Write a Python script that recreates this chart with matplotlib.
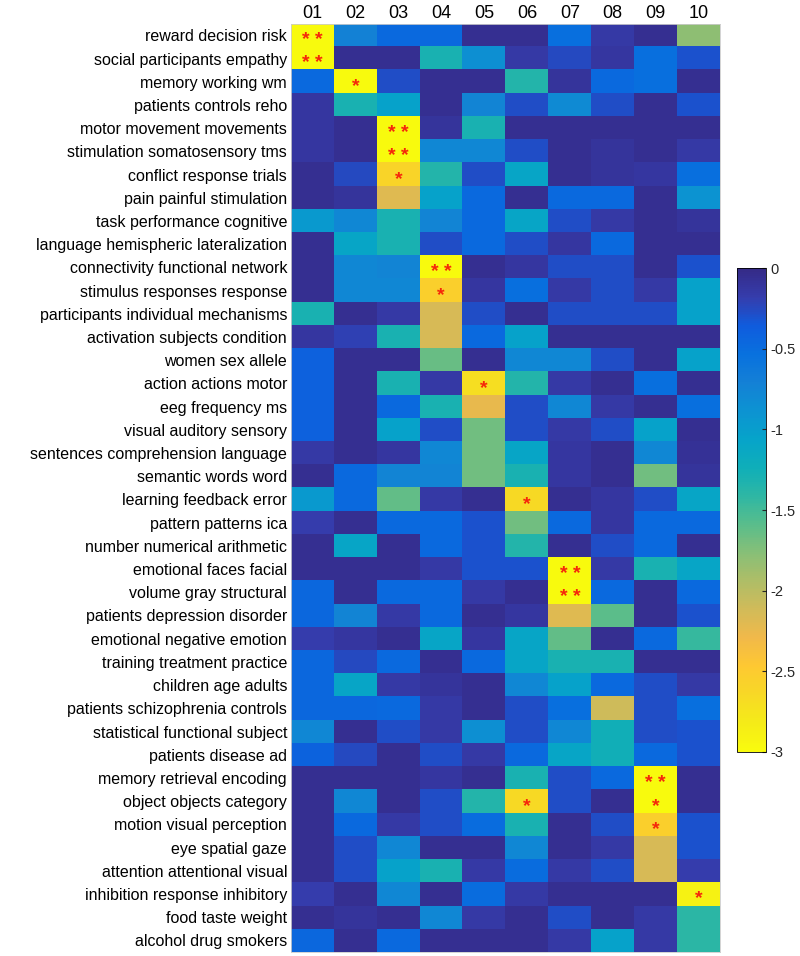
import matplotlib.pyplot as plt
import numpy as np
from matplotlib.colors import LinearSegmentedColormap

# topic labels (rows) and component labels (columns)
topics = [
    "reward decision risk", "social participants empathy", "memory working wm",
    "patients controls reho", "motor movement movements", "stimulation somatosensory tms",
    "conflict response trials", "pain painful stimulation", "task performance cognitive",
    "language hemispheric lateralization", "connectivity functional network",
    "stimulus responses response", "participants individual mechanisms",
    "activation subjects condition", "women sex allele", "action actions motor",
    "eeg frequency ms", "visual auditory sensory", "sentences comprehension language",
    "semantic words word", "learning feedback error", "pattern patterns ica",
    "number numerical arithmetic", "emotional faces facial", "volume gray structural",
    "patients depression disorder", "emotional negative emotion",
    "training treatment practice", "children age adults", "patients schizophrenia controls",
    "statistical functional subject", "patients disease ad", "memory retrieval encoding",
    "object objects category", "motion visual perception", "eye spatial gaze",
    "attention attentional visual", "inhibition response inhibitory", "food taste weight",
    "alcohol drug smokers",
]
components = ["01", "02", "03", "04", "05", "06", "07", "08", "09", "10"]

# values, one list per row
values = [
    [-3.0, -0.72, -0.48, -0.48, -0.05, -0.05, -0.52, -0.15, -0.05, -1.8],
    [-3.0, -0.05, -0.05, -1.3, -0.85, -0.15, -0.25, -0.12, -0.52, -0.3],
    [-0.48, -3.0, -0.28, -0.05, -0.05, -1.35, -0.1, -0.48, -0.52, -0.05],
    [-0.12, -1.3, -1.05, -0.05, -0.75, -0.28, -0.8, -0.28, -0.05, -0.3],
    [-0.12, -0.05, -3.0, -0.1, -1.3, -0.05, -0.05, -0.05, -0.05, -0.05],
    [-0.12, -0.05, -3.0, -0.78, -0.78, -0.28, -0.05, -0.1, -0.05, -0.15],
    [-0.05, -0.25, -2.6, -1.35, -0.28, -1.1, -0.05, -0.1, -0.12, -0.52],
    [-0.05, -0.1, -2.2, -1.05, -0.48, -0.05, -0.48, -0.48, -0.05, -0.88],
    [-0.95, -0.78, -1.3, -0.75, -0.48, -1.1, -0.28, -0.15, -0.05, -0.1],
    [-0.05, -1.1, -1.3, -0.28, -0.48, -0.28, -0.12, -0.48, -0.05, -0.05],
    [-0.05, -0.78, -0.75, -3.0, -0.05, -0.12, -0.28, -0.28, -0.05, -0.3],
    [-0.05, -0.78, -0.78, -2.55, -0.12, -0.52, -0.15, -0.28, -0.15, -1.05],
    [-1.3, -0.05, -0.15, -2.15, -0.28, -0.05, -0.28, -0.28, -0.28, -1.05],
    [-0.12, -0.2, -1.3, -2.15, -0.48, -1.05, -0.05, -0.05, -0.05, -0.05],
    [-0.4, -0.05, -0.05, -1.65, -0.05, -0.78, -0.78, -0.28, -0.05, -1.05],
    [-0.4, -0.05, -1.3, -0.15, -2.7, -1.35, -0.15, -0.05, -0.52, -0.05],
    [-0.4, -0.05, -0.48, -1.3, -2.25, -0.28, -0.78, -0.15, -0.05, -0.52],
    [-0.4, -0.05, -1.05, -0.28, -1.68, -0.28, -0.15, -0.28, -1.05, -0.05],
    [-0.15, -0.05, -0.12, -0.78, -1.68, -1.1, -0.12, -0.05, -0.78, -0.08],
    [-0.05, -0.48, -0.75, -0.75, -1.68, -1.3, -0.12, -0.05, -1.68, -0.1],
    [-0.95, -0.48, -1.62, -0.15, -0.05, -2.65, -0.05, -0.12, -0.28, -1.1],
    [-0.18, -0.05, -0.48, -0.48, -0.3, -1.68, -0.48, -0.12, -0.48, -0.48],
    [-0.05, -1.1, -0.05, -0.48, -0.3, -1.35, -0.05, -0.28, -0.48, -0.05],
    [-0.05, -0.05, -0.05, -0.15, -0.3, -0.3, -3.0, -0.15, -1.3, -1.1],
    [-0.45, -0.05, -0.48, -0.48, -0.15, -0.05, -3.0, -0.48, -0.05, -0.48],
    [-0.45, -0.75, -0.15, -0.48, -0.05, -0.12, -2.2, -1.6, -0.05, -0.3],
    [-0.18, -0.12, -0.05, -1.1, -0.12, -1.1, -1.62, -0.05, -0.48, -1.45],
    [-0.45, -0.25, -0.48, -0.05, -0.48, -1.1, -1.3, -1.3, -0.05, -0.05],
    [-0.45, -1.1, -0.15, -0.1, -0.05, -0.78, -1.05, -0.48, -0.28, -0.15],
    [-0.45, -0.45, -0.48, -0.15, -0.05, -0.28, -0.52, -2.1, -0.28, -0.52],
    [-0.78, -0.05, -0.28, -0.15, -0.85, -0.28, -0.78, -1.25, -0.28, -0.3],
    [-0.42, -0.25, -0.05, -0.28, -0.15, -0.48, -1.1, -1.25, -0.48, -0.3],
    [-0.05, -0.05, -0.05, -0.12, -0.05, -1.3, -0.28, -0.48, -3.0, -0.05],
    [-0.05, -0.78, -0.05, -0.28, -1.35, -2.65, -0.28, -0.05, -3.0, -0.05],
    [-0.05, -0.48, -0.15, -0.28, -0.5, -1.3, -0.05, -0.28, -2.55, -0.3],
    [-0.05, -0.28, -0.78, -0.05, -0.05, -0.78, -0.05, -0.15, -2.15, -0.3],
    [-0.05, -0.28, -1.05, -1.3, -0.15, -0.5, -0.15, -0.28, -2.15, -0.18],
    [-0.18, -0.05, -0.78, -0.05, -0.5, -0.15, -0.05, -0.05, -0.05, -2.9],
    [-0.05, -0.1, -0.05, -0.78, -0.15, -0.05, -0.28, -0.05, -0.15, -1.4],
    [-0.45, -0.05, -0.48, -0.05, -0.05, -0.05, -0.15, -1.05, -0.15, -1.4],
]

# significance marks: (row, column, text)
stars = [
    (0, 0, "**"), (1, 0, "**"), (2, 1, "*"), (4, 2, "**"), (5, 2, "**"), (6, 2, "*"),
    (10, 3, "**"), (11, 3, "*"), (15, 4, "*"), (20, 5, "*"), (23, 6, "**"), (24, 6, "**"),
    (32, 8, "**"), (33, 8, "*"), (33, 5, "*"), (34, 8, "*"), (37, 9, "*"),
]

# parula-like colormap (MATLAB default)
parula_pts = [
    (0.2081, 0.1663, 0.5292), (0.2081, 0.2386, 0.6771), (0.0591, 0.3598, 0.8683),
    (0.0329, 0.4430, 0.8720), (0.0779, 0.5040, 0.8384), (0.0488, 0.5772, 0.8228),
    (0.0231, 0.6418, 0.7913), (0.0590, 0.6838, 0.7254), (0.1801, 0.7177, 0.6424),
    (0.3482, 0.7424, 0.5473), (0.5300, 0.7491, 0.4661), (0.6834, 0.7435, 0.4044),
    (0.8185, 0.7327, 0.3498), (0.9450, 0.7261, 0.2886), (0.9955, 0.7861, 0.1967),
    (0.9697, 0.8481, 0.1475), (0.9598, 0.9218, 0.0948), (0.9763, 0.9831, 0.0538),
]
parula_r = LinearSegmentedColormap.from_list("parula_r", parula_pts[::-1], N=256)

plt.rcParams['font.family'] = ['Liberation Sans', 'DejaVu Sans']

fig = plt.figure(figsize=(8, 9.56), dpi=100)
ax = fig.add_axes([0.364, 0.0042, 0.536, 0.971])
im = ax.imshow(np.array(values), cmap=parula_r, vmin=-3, vmax=0, aspect='auto',
               interpolation='nearest')

for r, c, s in stars:
    ax.text(c, r + 0.22, " ".join(s), color='#f5260a', ha='center', va='center',
            fontsize=14, fontweight='bold')

ax.set_yticks(range(len(topics)))
ax.set_yticklabels(topics, fontsize=11.5)
ax.set_xticks(range(len(components)))
ax.set_xticklabels(components, fontsize=13)
ax.xaxis.tick_top()
ax.tick_params(length=0, pad=3)
ax.tick_params(axis='x', pad=1)
for sp in ax.spines.values():
    sp.set_color('#cccccc')
    sp.set_linewidth(0.6)

cax = fig.add_axes([0.921, 0.2134, 0.036, 0.506])
cb = fig.colorbar(im, cax=cax, ticks=[0, -0.5, -1, -1.5, -2, -2.5, -3])
cb.ax.set_yticklabels(["0", "-0.5", "-1", "-1.5", "-2", "-2.5", "-3"])
cb.ax.tick_params(direction='in', length=3, labelsize=10.5, colors='#262626')
cb.outline.set_linewidth(0.6)

plt.savefig("out.png", dpi=100)
